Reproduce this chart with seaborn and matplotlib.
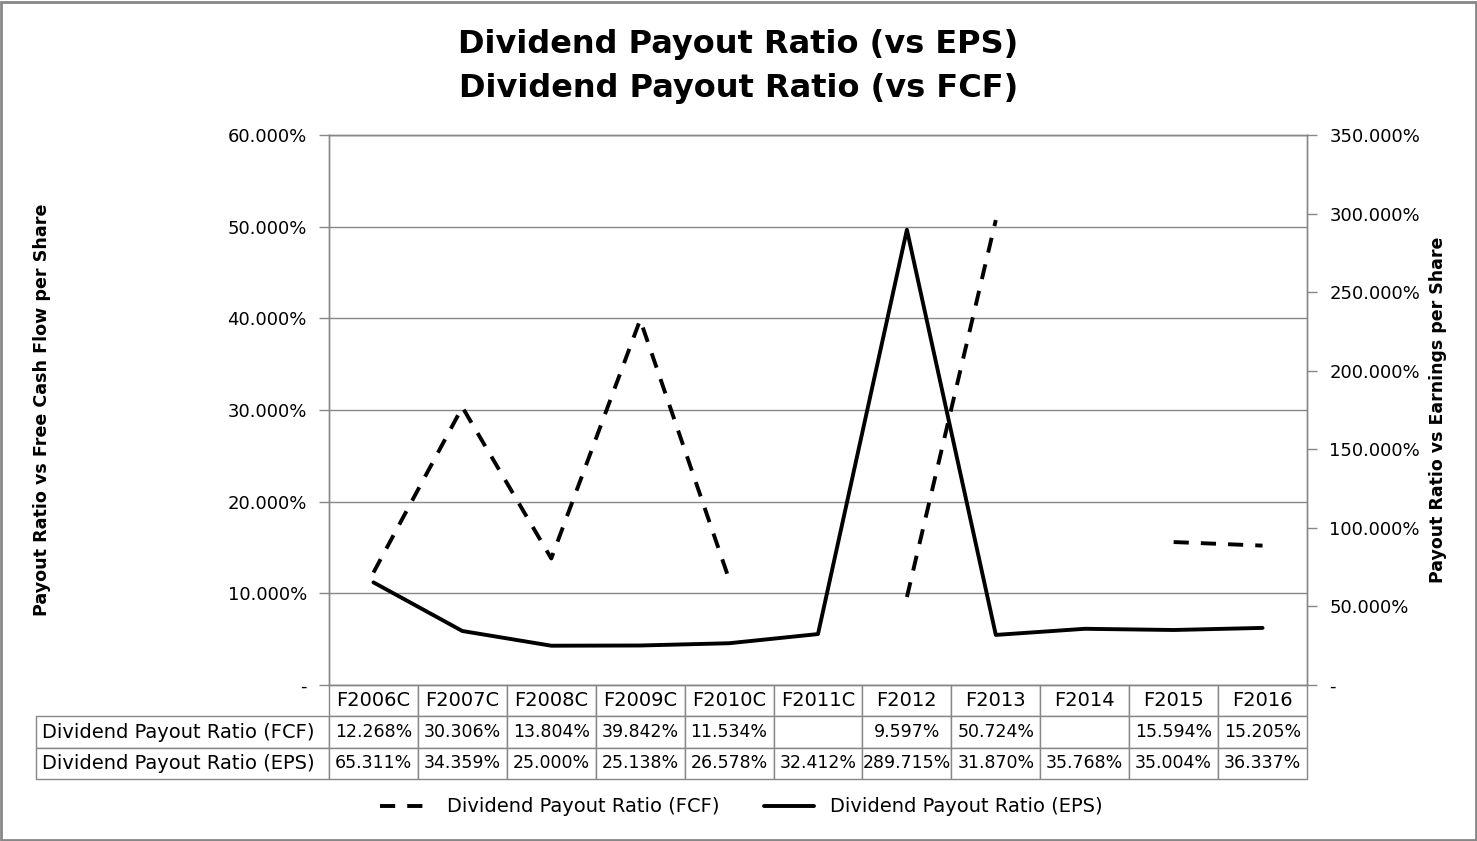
import numpy as np
import pandas as pd
import matplotlib
matplotlib.use("Agg")
import matplotlib.pyplot as plt
import seaborn as sns
from matplotlib.ticker import FuncFormatter
from matplotlib.patches import Rectangle

# ── data ─────────────────────────────────────────────
years = ['F2006C', 'F2007C', 'F2008C', 'F2009C', 'F2010C', 'F2011C',
         'F2012', 'F2013', 'F2014', 'F2015', 'F2016']
fcf_ratio = [12.268, 30.306, 13.804, 39.842, 11.534, np.nan,
             9.597, 50.724, np.nan, 15.594, 15.205]
eps_ratio = [65.311, 34.359, 25.000, 25.138, 26.578, 32.412,
             289.715, 31.870, 35.768, 35.004, 36.337]
fcf_name = 'Dividend Payout Ratio (FCF)'
eps_name = 'Dividend Payout Ratio (EPS)'

sns.set_style("white")
plt.rcParams['font.family'] = ['DejaVu Sans']
plt.rcParams['text.color'] = 'black'
plt.rcParams['ytick.labelcolor'] = 'black'

df = pd.DataFrame({'x': np.arange(len(years)), 'year': years,
                   'fcf': fcf_ratio, 'eps': eps_ratio})
# split FCF into contiguous runs so the gaps stay gaps
df['seg'] = df['fcf'].isna().cumsum()
fcf_df = df.dropna(subset=['fcf'])

W, H = 1477, 841
L, R, T, B = 329, 1307, 135, 685   # plot area in pixels
fig = plt.figure(figsize=(W/100, H/100), dpi=100)
ax = fig.add_axes([L/W, 1-B/H, (R-L)/W, (B-T)/H])
ax2 = ax.twinx()

grid_c = '#878787'
sns.lineplot(data=fcf_df, x='x', y='fcf', units='seg', estimator=None,
             color='black', lw=2.8, linestyle=(0, (3.9, 3.1)), ax=ax)
sns.lineplot(data=df, x='x', y='eps', color='black', lw=2.8, ax=ax2)

ax.set_xlim(-0.5, len(years) - 0.5)
ax.set_ylim(0, 60)
ax.set_yticks(np.arange(0, 61, 10))
ax2.set_ylim(0, 350)
ax2.set_yticks(np.arange(0, 351, 50))

pct = FuncFormatter(lambda v, p: '-' if v == 0 else f'{v:.3f}%')
ax.yaxis.set_major_formatter(pct)
ax2.yaxis.set_major_formatter(pct)
for a in (ax, ax2):
    a.set_xticks([])
    a.set_xlabel('')
    a.set_ylabel('')
    for s in a.spines.values():
        s.set_color(grid_c)
        s.set_linewidth(1)
    a.tick_params(axis='y', length=7, width=1, color=grid_c,
                  labelsize=13, pad=9, direction='out', labelcolor='black')
ax2.spines['bottom'].set_visible(False)

ax.yaxis.grid(True, color=grid_c, lw=1)
ax.set_axisbelow(True)

# titles / axis labels
fig.text(0.5, 1-45/H, 'Dividend Payout Ratio (vs EPS)', ha='center', va='center',
         fontsize=23, fontweight='bold')
fig.text(0.5, 1-88/H, 'Dividend Payout Ratio (vs FCF)', ha='center', va='center',
         fontsize=23, fontweight='bold')
fig.text(42/W, 1-410/H, 'Payout Ratio vs Free Cash Flow per Share', rotation=90,
         ha='center', va='center', fontsize=12.6, fontweight='bold')
fig.text(1438/W, 1-410/H, 'Payout Ratio vs Earnings per Share', rotation=90,
         ha='center', va='center', fontsize=12.5, fontweight='bold')

# data table under the plot
def fmt(v):
    return '' if np.isnan(v) else f'{v:.3f}%'

cells = [[fcf_name] + [fmt(v) for v in fcf_ratio],
         [eps_name] + [fmt(v) for v in eps_ratio]]
lab_w = (L - 36) / (R - L)
tbl_h = 94 / (B - T)
col_w = [lab_w] + [1 / len(years)] * len(years)
tbl = ax.table(cellText=cells, colLabels=[''] + years, colWidths=col_w,
               cellLoc='center', bbox=[-lab_w, -tbl_h, 1 + lab_w, tbl_h])
tbl.auto_set_font_size(False)
tbl.set_fontsize(12.5)
for (r, c), cell in tbl.get_celld().items():
    cell.set_edgecolor(grid_c)
    cell.set_linewidth(1)
    cell.PAD = 0.02
    cell.get_text().set_color('black')
    if r == 0:
        cell.get_text().set_fontsize(14)
        cell.visible_edges = '' if c == 0 else 'closed'
    elif c == 0:
        cell._loc = 'left'
        cell.get_text().set_ha('left')
        cell.get_text().set_fontsize(14)

# legend
h1 = ax.get_lines()[0]
h2 = ax2.get_lines()[0]
fig.legend([h1, h2], [fcf_name, eps_name], loc='center', bbox_to_anchor=(0.502, 1-807/H),
           ncol=2, frameon=False, fontsize=14, handlelength=2.6,
           handletextpad=0.8, columnspacing=2.3, labelcolor='black')

# outer chart border
fig.patches.append(Rectangle((0.001, 0.001), 0.998, 0.997, transform=fig.transFigure,
                             fill=False, edgecolor=grid_c, lw=2))

fig.savefig('out.png', dpi=100, facecolor='white')
